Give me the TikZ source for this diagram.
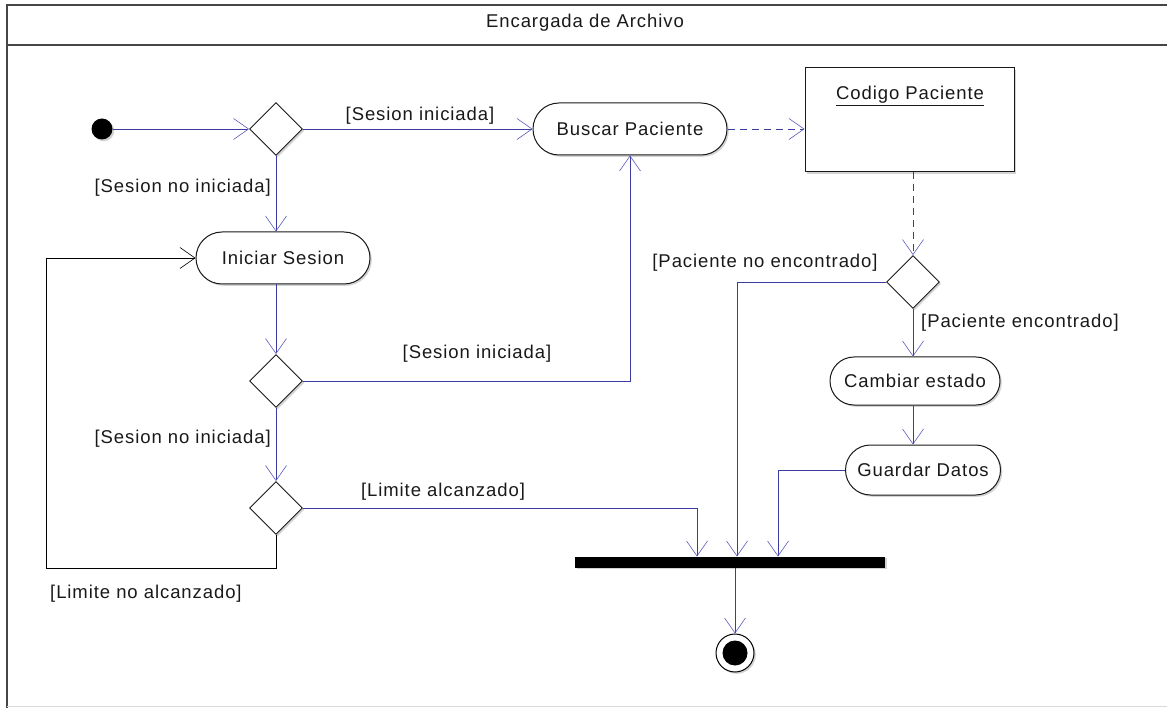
\documentclass[tikz,border=0pt]{standalone}
\usepackage{fontspec}
\setmainfont{Liberation Sans}[LetterSpace=5]
\usetikzlibrary{arrows.meta,shapes.geometric,shapes.misc,shadows}
\definecolor{flowblue}{RGB}{60,60,160}
\definecolor{tipblue}{RGB}{90,90,190}
\definecolor{inkgray}{RGB}{25,25,25}
\definecolor{framegray}{RGB}{70,70,70}
\begin{document}
\begin{tikzpicture}[x=1pt,y=-1pt,
  font=\fontsize{18.5}{21}\selectfont,
  every node/.style={text=inkgray},
  vee/.tip={Straight Barb[length=15pt,width=21pt,line width=0.6pt]},
  flow/.style={draw=flowblue,line width=0.75pt,-{vee[color=tipblue]}},
  objflow/.style={flow,dash pattern=on 7pt off 5pt},
  loopflow/.style={draw=black,line width=0.75pt,-{vee[color=black]}},
  shade/.style={drop shadow={shadow xshift=1.8pt,shadow yshift=-1.8pt,opacity=0.35}},
  activity/.style={rounded rectangle,draw=inkgray,line width=1pt,fill=white,
    shade,minimum height=52pt,inner sep=0pt},
  decision/.style={diamond,draw=inkgray,line width=0.9pt,fill=white,shade,
    minimum width=53pt,minimum height=53pt,inner sep=0pt,aspect=1},
  guard/.style={inner sep=0pt}]
\useasboundingbox (0,0) rectangle (1167,708);

% swimlane frame and header
\draw[line width=1.6pt,framegray] (1175,5) -- (7,5) -- (7,708);
\draw[line width=0.6pt,black!15] (7,706.5) -- (1167,706.5);
\draw[line width=1.2pt,framegray] (7,45) -- (1167,45);
\node[guard] (title) at (585,23) {Encargada de Archivo};

% nodes
\node[circle,fill=black,minimum size=21pt,inner sep=0pt,shade] (init) at (102,129) {};
\node[decision] (d1) at (276,129) {};
\node[activity,minimum width=194pt] (buscar) at (630,129) {Buscar Paciente};
\node[rectangle,draw=inkgray,line width=1pt,fill=white,shade,
      minimum width=209pt,minimum height=104pt] (codigo) at (909.5,120) {};
\node[guard] (codigotxt) at (910,96) {\underline{Codigo Paciente}};
\node[activity,minimum width=174pt] (iniciar) at (283,258) {Iniciar Sesion};
\node[decision] (d2) at (276,381) {};
\node[decision] (d3) at (276,508) {};
\node[decision] (d4) at (913,282) {};
\node[activity,minimum width=170pt,minimum height=48pt] (cambiar) at (915,381) {Cambiar estado};
\node[activity,minimum width=155pt,minimum height=50pt] (guardar) at (923,470) {Guardar Datos};
\node[rectangle,fill=black,minimum width=310pt,minimum height=11pt,inner sep=0pt,shade] (bar) at (730,562) {};
\node[circle,draw=black,line width=1pt,fill=white,minimum size=38pt,inner sep=0pt,shade] (final) at (735,653) {};
\node[circle,fill=black,minimum size=25pt,inner sep=0pt] (finaldot) at (final.center) {};

% join points on the bar and loop corners
\coordinate (j1) at (697,556.5);
\coordinate (j2) at (737,556.5);
\coordinate (j3) at (778,556.5);
\coordinate (jout) at (735,567.5);
\coordinate (l1) at (276,568);
\coordinate (l2) at (46,568);

% control flow
\draw[flow] (init) -- (d1.west);
\draw[flow] (d1.east) -- (buscar.west);
\draw[flow] (d1.south) -- (d1.south |- iniciar.north);
\draw[flow] (d2.north |- iniciar.south) -- (d2.north);
\draw[flow] (d2.east) -| (buscar.south);
\draw[flow] (d2.south) -- (d3.north);
\draw[flow] (d3.east) -| (j1);
\draw[loopflow] (d3.south) -- (l1) -- (l2) |- (iniciar.west);
\draw[flow] (d4.west) -| (j2);
\draw[flow] (d4.south) -- (d4.south |- cambiar.north);
\draw[flow] (d4.south |- cambiar.south) -- (d4.south |- guardar.north);
\draw[flow] (guardar.west) -| (j3);
\draw[flow] (jout) -- (final.north);

% object flow
\draw[objflow] (buscar.east) -- (buscar.east -| codigo.west);
\draw[objflow] (d4.north |- codigo.south) -- (d4.north);

% guards
\node[guard] (g1) at (420,116) {[Sesion iniciada]};
\node[guard,anchor=east] (g2) at (271,188) {[Sesion no iniciada]};
\node[guard] (g3) at (477,354) {[Sesion iniciada]};
\node[guard,anchor=east] (g4) at (271,439) {[Sesion no iniciada]};
\node[guard] (g5) at (443,492) {[Limite alcanzado]};
\node[guard,anchor=west] (g6) at (50,594) {[Limite no alcanzado]};
\node[guard] (g7) at (765,263) {[Paciente no encontrado]};
\node[guard,anchor=west] (g8) at (921,323) {[Paciente encontrado]};
\end{tikzpicture}
\end{document}
